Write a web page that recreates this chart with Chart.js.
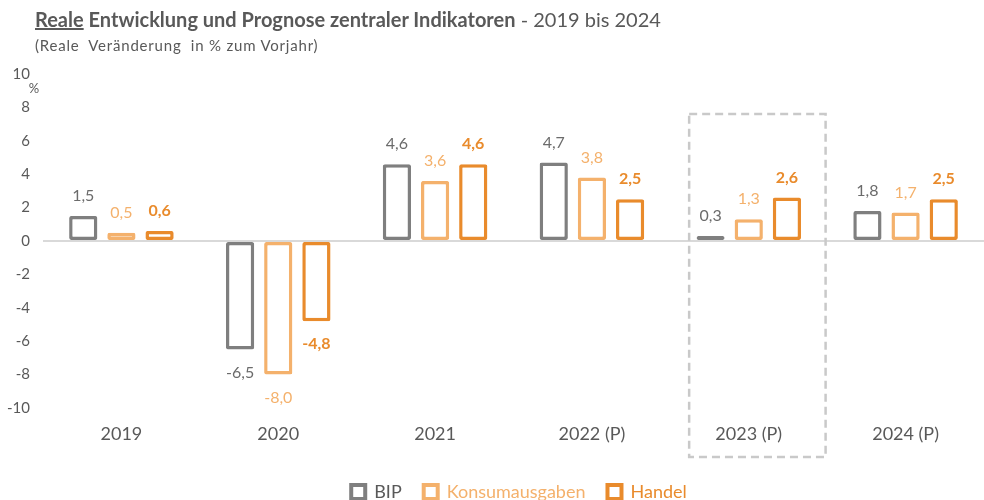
<!DOCTYPE html>
<html lang="de">
<head>
<meta charset="utf-8">
<script src="https://cdn.jsdelivr.net/npm/chart.js@4.4.1/dist/chart.umd.min.js"></script>
<style>
    html, body { margin: 0; padding: 0; background: #fff; }
    #wrap { position: relative; width: 984px; height: 500px; }
    #titel { position: absolute; left: 35px; top: 7px; font-family: Lato, sans-serif; color: #595959; font-size: 20px; white-space: nowrap; }
    #titel b { font-weight: 700; }
    #titel u { text-decoration-thickness: 2px; }
    #untertitel { position: absolute; left: 35px; top: 36px; font-family: Lato, sans-serif; color: #595959; font-size: 15px; letter-spacing: 0.8px; white-space: nowrap; }
</style>
</head>
<body>
<div id="wrap">
    <canvas id="chartIndikatoren" width="984" height="500"></canvas>
    <div id="titel"><b><u>Reale</u> Entwicklung und Prognose zentraler Indikatoren</b> - 2019 bis 2024</div>
    <div id="untertitel">(Reale&nbsp; Veränderung&nbsp; in % zum Vorjahr)</div>
</div>
<script>
var jahre = ["2019", "2020", "2021", "2022 (P)", "2023 (P)", "2024 (P)"];
var bip = [1.5, -6.5, 4.6, 4.7, 0.3, 1.8];
var konsumausgaben = [0.5, -8.0, 3.6, 3.8, 1.3, 1.7];
var handel = [0.6, -4.8, 4.6, 2.5, 2.6, 2.5];
var yTicks = [10, 8, 6, 4, 2, 0, -2, -4, -6, -8, -10];

var farbeBip = "#7f7f7f";
var farbeKonsum = "#f4b16c";
var farbeHandel = "#e98b2c";
var textGrau = "#595959";
var schrift = "Lato, sans-serif";

// Werte als Zahl mit Komma über/unter die Balken schreiben
var wertLabels = {
    id: "wertLabels",
    afterDatasetsDraw: function (chart) {
        var ctx = chart.ctx;
        ctx.save();
        ctx.textAlign = "center";
        chart.data.datasets.forEach(function (ds, i) {
            var meta = chart.getDatasetMeta(i);
            ctx.fillStyle = ds.labelColor;
            ctx.font = (ds.labelBold ? "bold " : "") + "16px " + schrift;
            meta.data.forEach(function (bar, j) {
                var v = ds.data[j];
                var txt = v.toFixed(1).replace(".", ",");
                if (v >= 0) {
                    ctx.textBaseline = "bottom";
                    ctx.fillText(txt, bar.x, bar.y - 12);
                } else {
                    ctx.textBaseline = "top";
                    ctx.fillText(txt, bar.x, bar.y + 15);
                }
            });
        });
        ctx.restore();
    }
};

// Legende etwas nach rechts rücken
var legendeVersatz = {
    id: "legendeVersatz",
    afterLayout: function (chart) {
        chart.legend.left += 54;
    }
};

// gestrichelter Rahmen um das Prognosejahr 2023 und "%" an der Achse
var extras = {
    id: "extras",
    afterDraw: function (chart) {
        var ctx = chart.ctx;
        var x = chart.scales.x;
        var y = chart.scales.y;
        var mitte = x.getPixelForValue(4);
        var breite = x.getPixelForValue(1) - x.getPixelForValue(0);
        var oben = y.getPixelForValue(7.6);
        ctx.save();
        ctx.strokeStyle = "#c9c9c9";
        ctx.lineWidth = 2.5;
        ctx.setLineDash([8, 5]);
        ctx.strokeRect(mitte - breite * 0.38, oben, breite * 0.87, chart.chartArea.bottom + 49 - oben);
        ctx.setLineDash([]);
        ctx.fillStyle = textGrau;
        ctx.font = "13px " + schrift;
        ctx.textAlign = "center";
        ctx.textBaseline = "middle";
        ctx.fillText("%", y.right - 9, y.getPixelForValue(9.1));
        ctx.restore();
    }
};

var ctx = document.getElementById("chartIndikatoren").getContext("2d");
var chartIndikatoren = new Chart(ctx, {
    type: "bar",
    data: {
        labels: jahre,
        datasets: [
            {
                label: "BIP",
                data: bip,
                backgroundColor: "#ffffff",
                borderColor: farbeBip,
                labelColor: "#6b6b6b",
                labelBold: false
            },
            {
                label: "Konsumausgaben",
                data: konsumausgaben,
                backgroundColor: "#ffffff",
                borderColor: farbeKonsum,
                labelColor: farbeKonsum,
                labelBold: false
            },
            {
                label: "Handel",
                data: handel,
                backgroundColor: "#ffffff",
                borderColor: farbeHandel,
                labelColor: farbeHandel,
                labelBold: true
            }
        ]
    },
    options: {
        responsive: false,
        animation: false,
        layout: { padding: { top: 74, left: 0, right: 0, bottom: -11 } },
        datasets: {
            bar: {
                borderWidth: 3.5,
                borderSkipped: false,
                borderRadius: 2,
                barPercentage: 0.74,
                categoryPercentage: 0.73
            }
        },
        scales: {
            x: {
                grid: { display: false },
                border: { display: false },
                ticks: { color: textGrau, font: { family: schrift, size: 18 }, padding: 7 },
                afterFit: function (axis) { axis.height = 53; }
            },
            y: {
                min: -10,
                max: 10,
                afterBuildTicks: function (axis) {
                    axis.ticks = yTicks.map(function (v) { return { value: v }; });
                },
                afterFit: function (axis) { axis.width = 43; },
                grid: {
                    drawTicks: false,
                    lineWidth: function (c) { return c.tick && c.tick.value === 0 ? 2 : 0; },
                    color: "#d9d9d9"
                },
                border: { display: false },
                ticks: { color: textGrau, font: { family: schrift, size: 15 }, padding: 13 }
            }
        },
        plugins: {
            legend: {
                position: "bottom",
                labels: {
                    color: textGrau,
                    font: { family: schrift, size: 18 },
                    boxWidth: 14,
                    boxHeight: 14,
                    padding: 22,
                    generateLabels: function (chart) {
                        return chart.data.datasets.map(function (ds, i) {
                            return {
                                text: ds.label,
                                fillStyle: "#ffffff",
                                strokeStyle: ds.borderColor,
                                fontColor: i === 0 ? textGrau : ds.borderColor,
                                lineWidth: 4,
                                datasetIndex: i
                            };
                        });
                    }
                }
            },
            tooltip: { enabled: false }
        }
    },
    plugins: [wertLabels, legendeVersatz, extras]
});
</script>
</body>
</html>
